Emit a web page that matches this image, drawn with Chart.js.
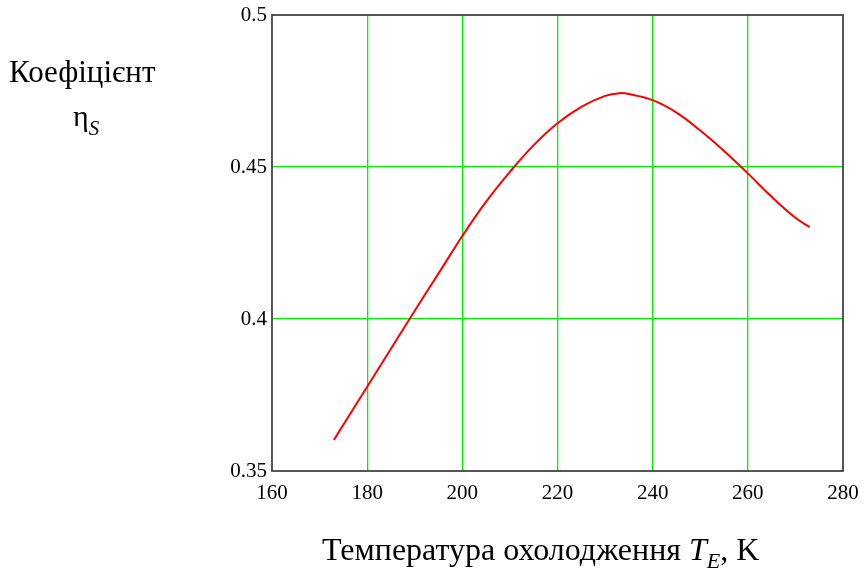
<!DOCTYPE html>
<html><head><meta charset="utf-8">
<script src="https://cdn.jsdelivr.net/npm/chart.js@4"></script>
<style>
html,body{margin:0;padding:0;background:#fff;}
#wrap{position:relative;width:865px;height:573px;overflow:hidden;}
canvas{position:absolute;left:0;top:0;}
.lbl{position:absolute;font-family:"Liberation Serif","Times New Roman",serif;color:#000;white-space:nowrap;line-height:1;}
.lbl i{font-style:italic;}
.lbl sub{font-style:italic;line-height:1;}
</style></head><body>
<div id="wrap">
<canvas id="c" width="865" height="573"></canvas>
<div class="lbl" style="left:9px;top:56px;font-size:31px;">Коефіцієнт</div>
<div class="lbl" style="left:73px;top:101px;font-size:30px;">η<sub style="font-size:21px;vertical-align:-9px;">S</sub></div>
<div class="lbl" style="left:322px;top:533px;font-size:32px;">Температура охолодження <i>T</i><sub style="font-size:22px;vertical-align:-8px;">E</sub>, K</div>
</div>
<script>
const tempK = [173, 175, 180, 185, 190, 195, 200, 205, 210, 215, 220, 225, 230, 233, 235, 240, 245, 250, 255, 260, 265, 270, 273];
const etaS  = [0.3602, 0.3652, 0.3777, 0.3902, 0.4027, 0.4150, 0.4273, 0.4386, 0.4484, 0.4572, 0.4644, 0.4698, 0.4734, 0.4743, 0.4740, 0.4720, 0.4679, 0.4620, 0.4553, 0.4479, 0.4402, 0.4333, 0.4302];
const xTicks = [160, 180, 200, 220, 240, 260, 280];
const yTicks = [0.35, 0.4, 0.45, 0.5];
const yTickLabels = ['0.35', '0.4', '0.45', '0.5'];

const GRID = 'rgb(0,240,0)';
const boxPlugin = {
  id: 'box',
  afterDraw(chart) {
    const a = chart.chartArea, ctx = chart.ctx;
    ctx.save();
    ctx.strokeStyle = '#444';
    ctx.lineWidth = 1.8;
    ctx.strokeRect(a.left, a.top, a.right - a.left, a.bottom - a.top);
    ctx.restore();
  }
};

new Chart(document.getElementById('c'), {
  type: 'line',
  data: {
    datasets: [{
      data: tempK.map((t, i) => ({x: t, y: etaS[i]})),
      borderColor: '#ff0000',
      borderWidth: 2,
      pointRadius: 0,
      fill: false,
      tension: 0.4
    }]
  },
  options: {
    responsive: false,
    animation: false,
    devicePixelRatio: 1,
    layout: {padding: {top: 15, right: 22, left: 0, bottom: 0}},
    plugins: {legend: {display: false}, tooltip: {enabled: false}},
    scales: {
      x: {
        type: 'linear', min: 160, max: 280,
        afterBuildTicks: s => { s.ticks = xTicks.map(v => ({value: v})); },
        afterFit: s => { s.height = 102; s.paddingLeft = 0; s.paddingRight = 0; },
        grid: {color: c => (c.tick && (c.tick.value === 160 || c.tick.value === 280)) ? 'rgba(0,0,0,0)' : GRID, lineWidth: 1.3, drawTicks: false},
        border: {display: false},
        ticks: {color: '#000', font: {family: '"Liberation Serif", "Times New Roman", serif', size: 21}, padding: 10, maxRotation: 0,
          callback: v => String(v)}
      },
      y: {
        type: 'linear', min: 0.35, max: 0.5,
        afterBuildTicks: s => { s.ticks = yTicks.map(v => ({value: v})); },
        afterFit: s => { s.width = 272; s.paddingTop = 0; s.paddingBottom = 0; },
        grid: {color: c => (c.tick && (Math.abs(c.tick.value - 0.35) < 1e-9 || Math.abs(c.tick.value - 0.5) < 1e-9)) ? 'rgba(0,0,0,0)' : GRID, lineWidth: 1.3, drawTicks: false},
        border: {display: false},
        ticks: {color: '#000', font: {family: '"Liberation Serif", "Times New Roman", serif', size: 21}, padding: 5,
          callback: (v) => { const i = yTicks.findIndex(t => Math.abs(t - v) < 1e-9); return i >= 0 ? yTickLabels[i] : ''; }}
      }
    }
  },
  plugins: [boxPlugin]
});
</script>
</body></html>
